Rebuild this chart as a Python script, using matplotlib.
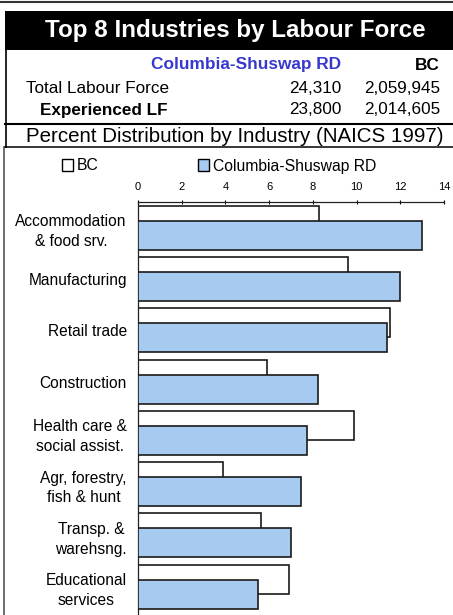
import matplotlib
matplotlib.use("Agg")
import matplotlib.pyplot as plt
from matplotlib.patches import Rectangle, Patch
from matplotlib.lines import Line2D

plt.rcParams["font.family"] = ["Liberation Sans", "DejaVu Sans"]

industries = ["Accommodation\n& food srv.", "Manufacturing", "Retail trade",
              "Construction", "Health care &\nsocial assist.",
              "Agr, forestry,\nfish & hunt", "Transp. &\nwarehsng.",
              "Educational\nservices"]
bc = [8.3, 9.6, 11.55, 5.9, 9.9, 3.9, 5.65, 6.9]
csrd = [13.0, 12.0, 11.4, 8.25, 7.75, 7.45, 7.0, 5.5]
xticks = [0, 2, 4, 6, 8, 10, 12, 14]

region = "Columbia-Shuswap RD"
row_labels = ["Total Labour Force", "Experienced LF"]
region_vals = ["24,310", "23,800"]
bc_vals = ["2,059,945", "2,014,605"]

W, H = 453, 615
BLUE = "#A6CAF0"
TXTBLUE = "#3838D0"


def fx(px):
    return px / W


def fy(py):
    return 1 - py / H


fig = plt.figure(figsize=(W / 100, H / 100), dpi=100)

# frame pieces and title band
fig.add_artist(Line2D([0, 1], [fy(1.5), fy(1.5)], color="#333333", lw=1.5))
fig.add_artist(Rectangle((fx(5), fy(50)), fx(453) - fx(5), fy(11) - fy(50),
                         transform=fig.transFigure, facecolor="black", edgecolor="none"))
fig.text(fx(235.5), fy(31), "Top 8 Industries by Labour Force", color="white",
         fontsize=17.4, fontweight="bold", ha="center", va="center")
fig.add_artist(Line2D([fx(5.5), fx(5.5)], [fy(50), fy(147)], color="black", lw=1.2))
fig.add_artist(Line2D([fx(3.5), fx(3.5)], [fy(147), 0], color="#555555", lw=1.2))
fig.add_artist(Line2D([fx(5), 1], [fy(124), fy(124)], color="black", lw=1.5))
fig.add_artist(Line2D([fx(5), 1], [fy(147), fy(147)], color="black", lw=1.1))

# header table
fig.text(fx(341), fy(65), region, color=TXTBLUE, fontsize=12.4,
         fontweight="bold", ha="right", va="center")
fig.text(fx(440), fy(65), "BC", fontsize=12.4, fontweight="bold",
         ha="right", va="center")
fig.text(fx(26), fy(88.5), row_labels[0], fontsize=12.3, ha="left", va="center")
fig.text(fx(40), fy(110), row_labels[1], fontsize=12.3, fontweight="bold",
         ha="left", va="center")
for py, rv, bv in zip([88.5, 110], region_vals, bc_vals):
    fig.text(fx(341), fy(py), rv, fontsize=12.3, ha="right", va="center")
    fig.text(fx(440), fy(py), bv, fontsize=12.3, ha="right", va="center")
fig.text(fx(234.5), fy(136), "Percent Distribution by Industry (NAICS 1997)",
         fontsize=14.8, ha="center", va="center")

# bar chart
ax = fig.add_axes([fx(138), 0, fx(444) - fx(138), fy(202)])
ypos = list(range(len(industries)))
h = 0.565
off = 0.146
ax.barh([y - off for y in ypos], bc, height=h, color="white",
        edgecolor="#1a1a1a", lw=1.2, zorder=2)
ax.barh([y + off for y in ypos], csrd, height=h, color=BLUE,
        edgecolor="#1a1a1a", lw=1.2, zorder=3)

ax.set_xlim(0, 14)
ax.set_ylim(-0.5 + 413 / 51.3, -0.5)
ax.xaxis.tick_top()
ax.set_xticks(xticks)
ax.set_xticklabels([str(t) for t in xticks])
ax.tick_params(axis="x", direction="inout", length=3, pad=6, labelsize=8,
               width=0.8)
ax.set_yticks(ypos)
ax.set_yticklabels(industries, fontsize=11.2, ha="right", multialignment="center",
                   linespacing=1.4)
ax.tick_params(axis="y", length=0, pad=8)
for s in ["right", "bottom"]:
    ax.spines[s].set_visible(False)
for s in ["left", "top"]:
    ax.spines[s].set_linewidth(0.9)
    ax.spines[s].set_color("#222222")

handles = [Patch(facecolor="white", edgecolor="black", lw=1),
           Patch(facecolor=BLUE, edgecolor="black", lw=1)]
fig.legend(handles, ["BC", region], ncol=2, loc="center",
           bbox_to_anchor=(fx(219), fy(166)), frameon=False, fontsize=11.3,
           handlelength=0.72, handleheight=0.72, handletextpad=0.25,
           columnspacing=6.3, borderpad=0, borderaxespad=0)

fig.savefig("out.png", dpi=100)
